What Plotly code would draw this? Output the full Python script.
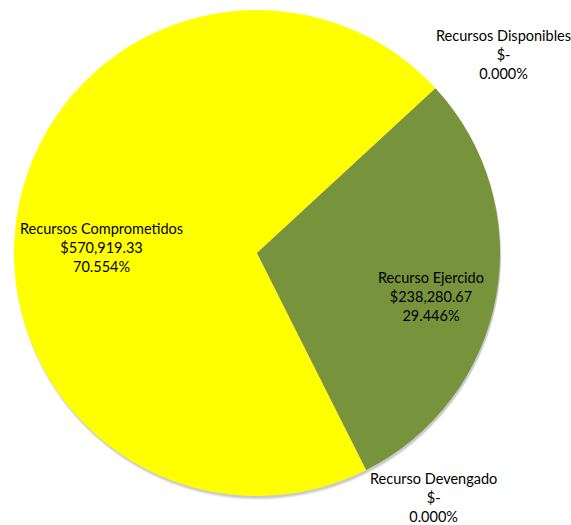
import plotly.graph_objects as go

labels = ["Recursos Comprometidos", "Recursos Disponibles", "Recurso Ejercido", "Recurso Devengado"]
values = [570919.33, 0.0, 238280.67, 0.0]
colors = ["#FFFF00", "#FFC000", "#77933C", "#4F81BD"]

total = sum(values)

def money(v):
    return "$-" if v == 0 else "${:,.2f}".format(v)

def pct(v):
    return "{:.3f}%".format(100 * v / total)

# label anchor positions (pixels in 571x525 canvas)
label_pos = {
    "Recursos Comprometidos": (101, 247),
    "Recursos Disponibles": (503, 55),
    "Recurso Ejercido": (431, 296),
    "Recurso Devengado": (433, 497),
}

W, H = 571, 525

fig = go.Figure()
fig.add_trace(go.Pie(
    labels=labels,
    values=values,
    sort=False,
    direction="clockwise",
    rotation=153.3,
    marker=dict(colors=colors, line=dict(width=0)),
    textinfo="none",
    hoverinfo="label+value+percent",
    showlegend=False,
    domain=dict(x=[14 / W, 500 / W], y=[1 - 496 / H, 1 - 10 / H]),
))

for lab, v in zip(labels, values):
    px, py = label_pos[lab]
    fig.add_annotation(
        x=px / W, y=1 - py / H, xref="paper", yref="paper",
        text=f"{lab}<br>{money(v)}<br>{pct(v)}",
        showarrow=False, align="center", xanchor="center", yanchor="middle",
        font=dict(family="Lato, Open Sans, sans-serif", size=14.5, color="#000000"),
    )

# soft drop shadow behind the pie
for off, op in [(4, 0.10), (3, 0.15), (2, 0.2)]:
    fig.add_shape(
        type="circle", xref="paper", yref="paper", layer="below",
        x0=(14 + 1) / W, x1=(500 + 1) / W,
        y0=1 - (496 + off) / H, y1=1 - (10 + off) / H,
        fillcolor="rgba(120,120,120,%s)" % op, line=dict(width=0),
    )

fig.update_layout(
    width=W, height=H,
    margin=dict(l=0, r=0, t=0, b=0),
    paper_bgcolor="white", plot_bgcolor="white",
)

fig.write_html(
    "out.html",
    config={"displayModeBar": False},
    post_script="document.body.style.margin='0';document.body.style.padding='0';",
)
